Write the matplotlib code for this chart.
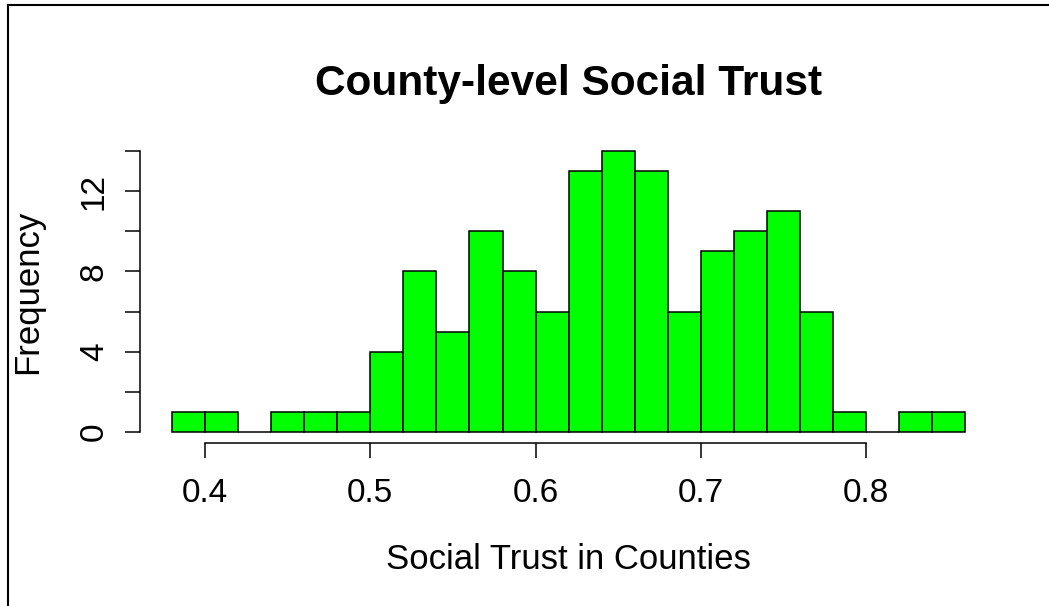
import numpy as np
import matplotlib
matplotlib.use("Agg")
import matplotlib.pyplot as plt
from matplotlib.lines import Line2D

plt.rcParams['font.family'] = ['Liberation Sans', 'DejaVu Sans']

# histogram breaks and counts
breaks = [0.38, 0.40, 0.42, 0.44, 0.46, 0.48, 0.50, 0.52, 0.54, 0.56, 0.58, 0.60,
          0.62, 0.64, 0.66, 0.68, 0.70, 0.72, 0.74, 0.76, 0.78, 0.80, 0.82, 0.84, 0.86]
counts = [1, 1, 0, 1, 1, 1, 4, 8, 5, 10, 8, 6,
          13, 14, 13, 6, 9, 10, 11, 6, 1, 0, 1, 1]
xticks = [0.4, 0.5, 0.6, 0.7, 0.8]
yticks = [0, 2, 4, 6, 8, 10, 12, 14]
ylabels = ['0', '', '4', '', '8', '', '12', '']

fig = plt.figure(figsize=(10.49, 6.06), dpi=100)
ax = fig.add_axes([0.1337, 0.2686, 0.8167, 0.5007])

b = np.array(breaks)
ax.bar(b[:-1], counts, width=np.diff(b), align='edge',
       color='#00ff00', edgecolor='black', linewidth=1.1)

# R-style axis extents (4% padding)
xr = b[-1] - b[0]
ax.set_xlim(b[0] - 0.04 * xr, b[-1] + 0.04 * xr)
ax.set_ylim(-0.04 * 14, 14 * 1.04)

for s in ['top', 'right']:
    ax.spines[s].set_visible(False)
ax.spines['left'].set_bounds(0, 14)
ax.spines['bottom'].set_bounds(0.4, 0.8)
for s in ['left', 'bottom']:
    ax.spines[s].set_linewidth(1.1)

ax.set_xticks(xticks)
ax.set_xticklabels(['0.4', '0.5', '0.6', '0.7', '0.8'])
ax.set_yticks(yticks)
ax.set_yticklabels(ylabels, rotation=90, va='center')
ax.tick_params(axis='both', direction='out', length=10.8, width=1.1,
               labelsize=24, color='black')
ax.tick_params(axis='x', pad=14)
ax.tick_params(axis='y', pad=11)

ax.set_xlabel('Social Trust in Counties', fontsize=25, labelpad=25)
ax.set_ylabel('Frequency', fontsize=25, labelpad=25)
ax.set_title('County-level Social Trust', fontsize=30.5, fontweight='bold', pad=32)

# border lines along the top and left of the figure
fig.add_artist(Line2D([7.5 / 1049, 7.5 / 1049], [0, 1 - 5 / 606],
                      transform=fig.transFigure, color='black', linewidth=1.5))
fig.add_artist(Line2D([7.5 / 1049, 1], [1 - 5 / 606, 1 - 5 / 606],
                      transform=fig.transFigure, color='black', linewidth=1.5))

fig.savefig('out.png', dpi=100)
